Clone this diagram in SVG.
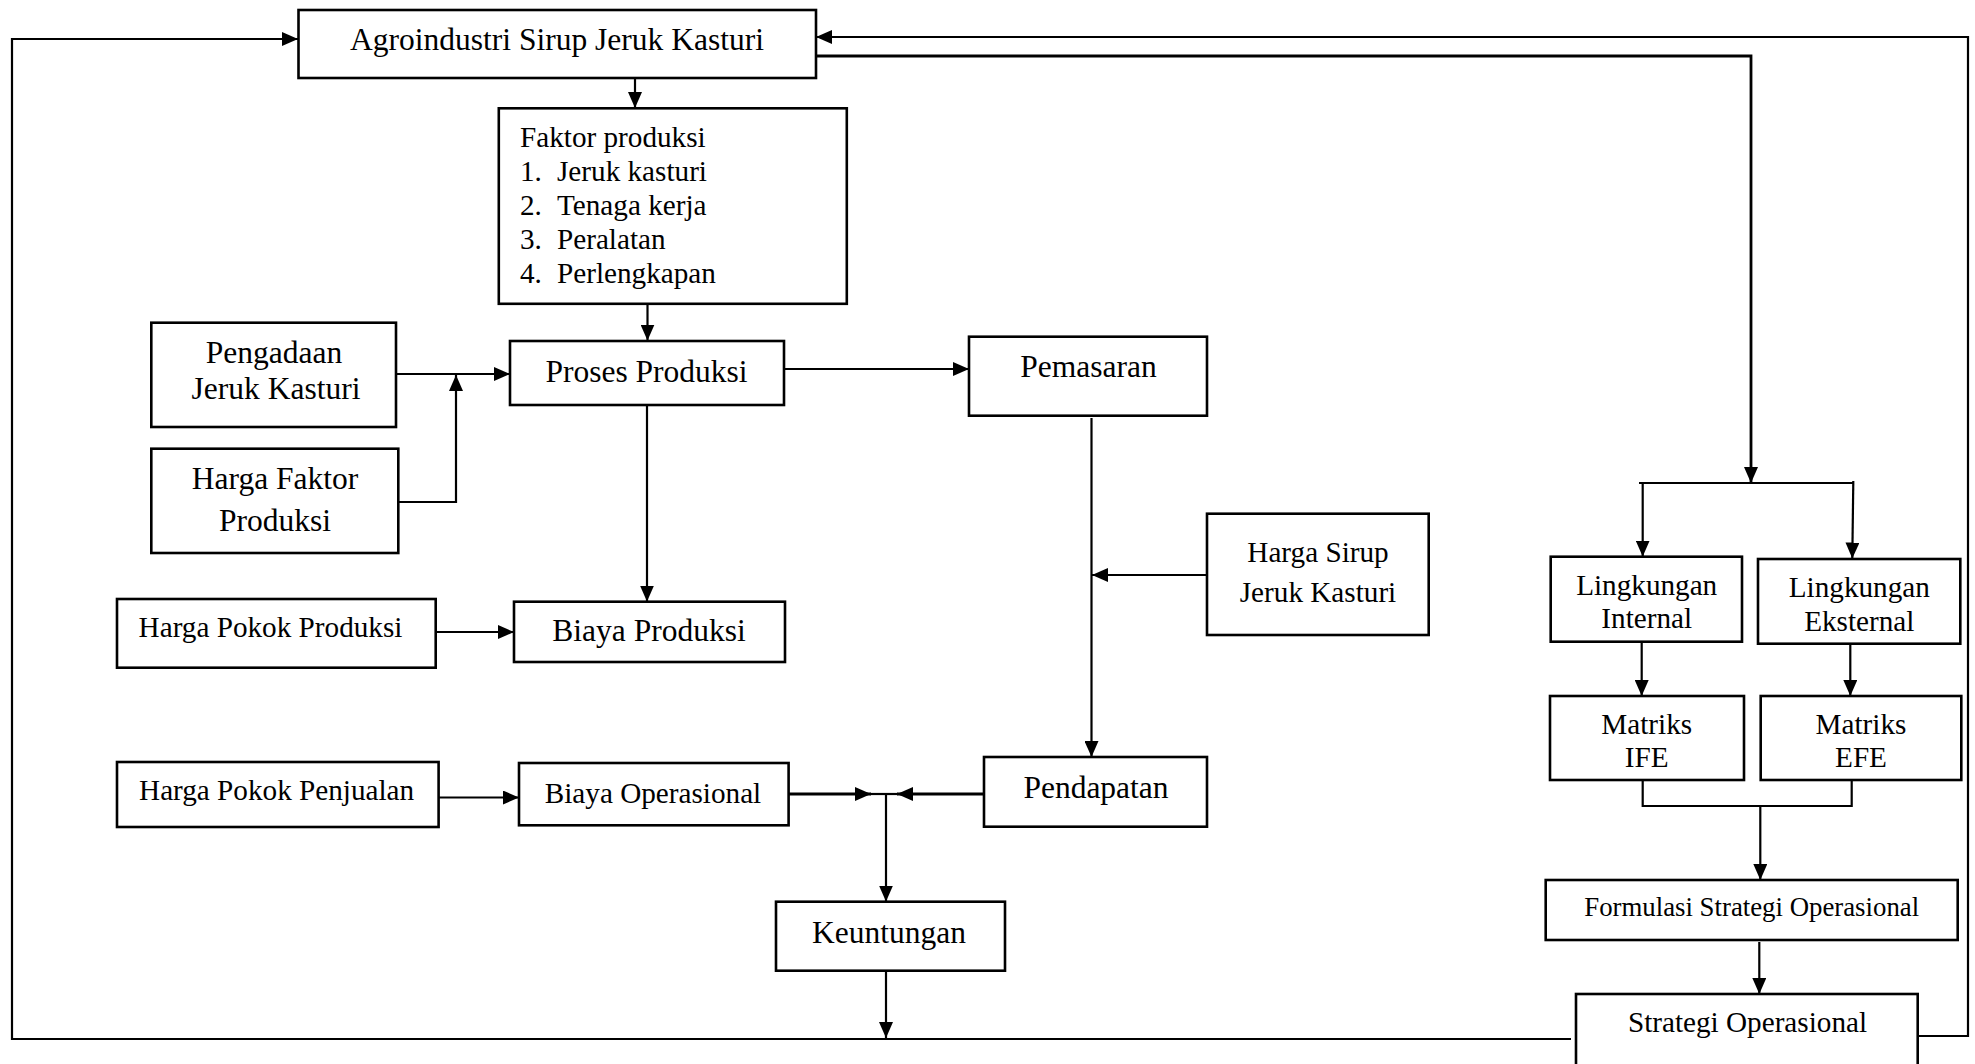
<svg xmlns="http://www.w3.org/2000/svg" width="1975" height="1064" viewBox="0 0 1975 1064">
  <defs>
    <marker id="arrow" viewBox="0 0 16 14" markerWidth="16" markerHeight="14" refX="16" refY="7" orient="auto" markerUnits="userSpaceOnUse">
      <path d="M0,0 L16,7 L0,14 Z" fill="#000"/>
    </marker>
    <style>
      .box { fill: #fff; stroke: #000; stroke-width: 2.6; }
      .lbl { font-family: "Liberation Serif", "Times New Roman", serif; fill: #000; text-anchor: middle; }
      .big { font-size: 31.5px; }
      .mid { font-size: 29.2px; }
      .list { font-family: "Liberation Serif", "Times New Roman", serif; font-size: 29.2px; fill: #000; }
      .wire { fill: none; stroke: #000; stroke-width: 2.2; }
      .arr { marker-end: url(#arrow); }
    </style>
  </defs>
  <rect width="1975" height="1064" fill="#fff"/>

  <!-- connectors -->
  <g id="connectors">
    <!-- feedback loop on the left and bottom -->
    <path class="wire arr" d="M1571,1039 H12 V39 H298"/>
    <path class="wire arr" d="M886,971 V1038"/>
    <!-- feedback loop on the right -->
    <path class="wire arr" d="M1918,1036 H1968 V37 H816"/>
    <path class="wire arr" d="M816,56 H1751 V483" style="stroke-width:2.8"/>
    <!-- split to internal / external -->
    <path class="wire" d="M1639,483 H1853"/>
    <path class="wire arr" d="M1642.7,483 V556.5"/>
    <path class="wire arr" d="M1853.3,481 L1852.3,558.5"/>
    <path class="wire arr" d="M1641.7,642 V696"/>
    <path class="wire arr" d="M1850.3,641 V696"/>
    <!-- merge of IFE / EFE -->
    <path class="wire" d="M1642.7,780 V806 H1851.7 V780"/>
    <path class="wire arr" d="M1760.3,806 V880"/>
    <path class="wire arr" d="M1759.3,942 V994"/>
    <!-- production chain -->
    <path class="wire arr" d="M635,78 V108"/>
    <path class="wire arr" d="M647.5,304 V340.5"/>
    <path class="wire arr" d="M396,374 H510"/>
    <path class="wire arr" d="M398,502 H456 V375"/>
    <path class="wire arr" d="M647,405 V601.5"/>
    <path class="wire arr" d="M436,632 H514"/>
    <path class="wire arr" d="M784,369 H969"/>
    <!-- marketing to revenue -->
    <path class="wire arr" d="M1091.5,418 V757"/>
    <path class="wire arr" d="M1207,575 H1092"/>
    <!-- costs and revenue to profit -->
    <path class="wire arr" d="M439,797.5 H519"/>
    <path class="wire" d="M870,794 H898"/>
    <path class="wire arr" d="M789,794 H871" style="stroke-width:3"/>
    <path class="wire arr" d="M984,794 H897" style="stroke-width:3"/>
    <path class="wire arr" d="M886,794 V901.5"/>
  </g>

  <g id="agroindustri">
    <rect class="box" x="298.5" y="10" width="517.5" height="68"/>
    <text class="lbl big" x="557" y="50">Agroindustri Sirup Jeruk Kasturi</text>
  </g>

  <g id="faktor-produksi">
    <rect class="box" x="498.8" y="108.3" width="348" height="195.5"/>
    <text class="list" x="520" y="147">Faktor produksi</text>
    <text class="list" x="520" y="181">1.</text>
    <text class="list" x="557" y="181">Jeruk kasturi</text>
    <text class="list" x="520" y="215">2.</text>
    <text class="list" x="557" y="215">Tenaga kerja</text>
    <text class="list" x="520" y="249">3.</text>
    <text class="list" x="557" y="249">Peralatan</text>
    <text class="list" x="520" y="283">4.</text>
    <text class="list" x="557" y="283">Perlengkapan</text>
  </g>

  <g id="pengadaan">
    <rect class="box" x="151.3" y="322.7" width="244.7" height="104.3"/>
    <text class="lbl big" x="274" y="362.7">Pengadaan</text>
    <text class="lbl big" x="276" y="399.3">Jeruk Kasturi</text>
  </g>

  <g id="harga-faktor">
    <rect class="box" x="151.3" y="448.7" width="247" height="104.3"/>
    <text class="lbl big" x="275" y="489.3">Harga Faktor</text>
    <text class="lbl big" x="275" y="530.7">Produksi</text>
  </g>

  <g id="proses-produksi">
    <rect class="box" x="510" y="341" width="274" height="64"/>
    <text class="lbl big" x="646.5" y="381.7">Proses Produksi</text>
  </g>

  <g id="harga-pokok-produksi">
    <rect class="box" x="117" y="599" width="318.7" height="68.7"/>
    <text class="lbl mid" x="270.5" y="637.3">Harga Pokok Produksi</text>
  </g>

  <g id="biaya-produksi">
    <rect class="box" x="514" y="601.7" width="271" height="60.3"/>
    <text class="lbl big" x="649" y="640.7">Biaya Produksi</text>
  </g>

  <g id="pemasaran">
    <rect class="box" x="969" y="336.7" width="238" height="79"/>
    <text class="lbl big" x="1088.5" y="376.7">Pemasaran</text>
  </g>

  <g id="harga-sirup">
    <rect class="box" x="1207" y="513.7" width="221.7" height="121.3"/>
    <text class="lbl mid" x="1318" y="562.3">Harga Sirup</text>
    <text class="lbl mid" x="1318" y="601.7">Jeruk Kasturi</text>
  </g>

  <g id="harga-pokok-penjualan">
    <rect class="box" x="117" y="762" width="321.6" height="65"/>
    <text class="lbl mid" x="276.6" y="800">Harga Pokok Penjualan</text>
  </g>

  <g id="biaya-operasional">
    <rect class="box" x="519" y="763" width="269.6" height="62.3"/>
    <text class="lbl mid" x="653" y="802.7">Biaya Operasional</text>
  </g>

  <g id="pendapatan">
    <rect class="box" x="984" y="757" width="223" height="69.7"/>
    <text class="lbl big" x="1096" y="798.3">Pendapatan</text>
  </g>

  <g id="keuntungan">
    <rect class="box" x="776" y="901.7" width="229" height="69"/>
    <text class="lbl big" x="889" y="943.3">Keuntungan</text>
  </g>

  <g id="lingkungan-internal">
    <rect class="box" x="1550.7" y="556.7" width="191.3" height="85"/>
    <text class="lbl mid" x="1646.7" y="595">Lingkungan</text>
    <text class="lbl mid" x="1646.7" y="628.3">Internal</text>
  </g>

  <g id="lingkungan-eksternal">
    <rect class="box" x="1758" y="559" width="202.3" height="84.7"/>
    <text class="lbl mid" x="1859.3" y="597.3">Lingkungan</text>
    <text class="lbl mid" x="1859.3" y="630.7">Eksternal</text>
  </g>

  <g id="matriks-ife">
    <rect class="box" x="1550" y="696" width="194" height="84"/>
    <text class="lbl mid" x="1646.7" y="734.3">Matriks</text>
    <text class="lbl mid" x="1646.7" y="767.3">IFE</text>
  </g>

  <g id="matriks-efe">
    <rect class="box" x="1760.7" y="696" width="200.6" height="84"/>
    <text class="lbl mid" x="1861" y="734.3">Matriks</text>
    <text class="lbl mid" x="1861" y="767.3">EFE</text>
  </g>

  <g id="formulasi-strategi">
    <rect class="box" x="1545.7" y="880" width="412" height="60"/>
    <text class="lbl" x="1751.7" y="916" style="font-size:26.8px">Formulasi Strategi Operasional</text>
  </g>

  <g id="strategi-operasional">
    <rect class="box" x="1576" y="994" width="341.7" height="90"/>
    <text class="lbl" x="1747.5" y="1032" style="font-size:29.2px">Strategi Operasional</text>
  </g>
</svg>
